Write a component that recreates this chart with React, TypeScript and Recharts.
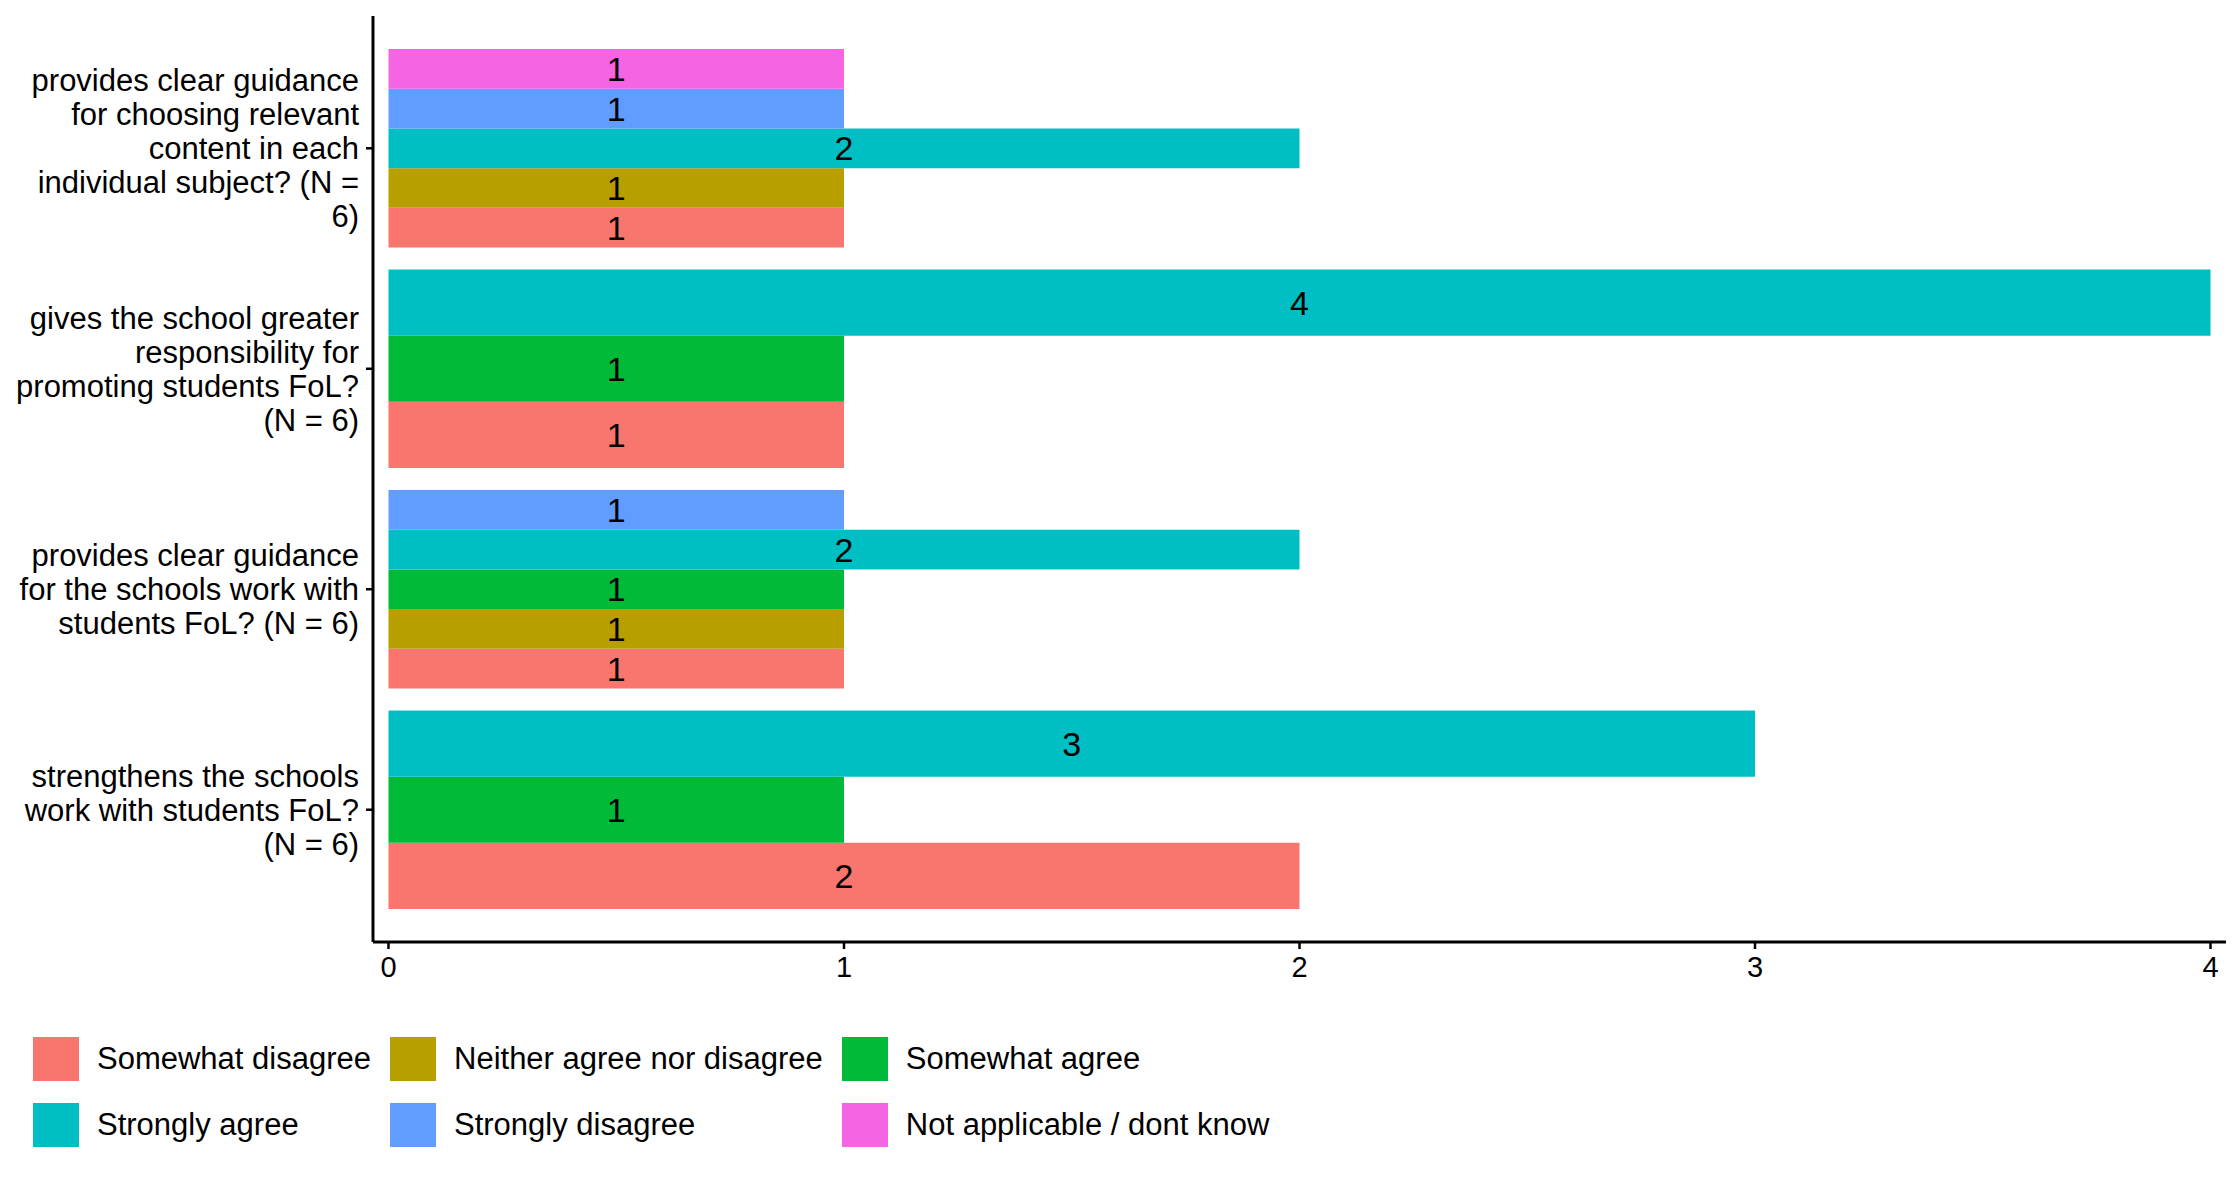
import { ComposedChart, XAxis, YAxis, ReferenceArea } from "recharts";

// questions, top to bottom, already wrapped the way the plot wraps them
const questionLines = [
  ["provides clear guidance", "for choosing relevant", "content in each", "individual subject? (N =", "6)"],
  ["gives the school greater", "responsibility for", "promoting students FoL?", "(N = 6)"],
  ["provides clear guidance", "for the schools work with", "students FoL? (N = 6)"],
  ["strengthens the schools", "work with students FoL?", "(N = 6)"],
];

const levels = [
  "Somewhat disagree",
  "Neither agree nor disagree",
  "Somewhat agree",
  "Strongly agree",
  "Strongly disagree",
  "Not applicable / dont know",
];
const levelColors = ["#F8766D", "#B79F00", "#00BA38", "#00BFC4", "#619CFF", "#F564E3"];

// counts per question (same order as questionLines), null = nobody answered that
const somewhatDisagree = [1, 1, 1, 2];
const neitherAgreeNorDisagree = [1, null, 1, null];
const somewhatAgree = [null, 1, 1, 1];
const stronglyAgree = [2, 4, 2, 3];
const stronglyDisagree = [1, null, 1, null];
const notApplicable = [1, null, null, null];

const countsByLevel = [
  somewhatDisagree,
  neitherAgreeNorDisagree,
  somewhatAgree,
  stronglyAgree,
  stronglyDisagree,
  notApplicable,
];

const xTicks = [0, 1, 2, 3, 4];
const yTicks = questionLines.map((_, i) => i + 1);

const FONT = "'Liberation Sans', Arial, Helvetica, sans-serif";
const DODGE = 0.9;

// dodge like ggplot: the bars that exist share the 0.9 band, first level at the bottom
const bars = questionLines.flatMap((_, qi) => {
  const present = levels.map((_, li) => li).filter((li) => countsByLevel[li][qi] != null);
  const w = DODGE / present.length;
  const pos = qi + 1;
  return present.map((li, j) => ({
    key: `${qi}-${li}`,
    value: countsByLevel[li][qi] as number,
    color: levelColors[li],
    y1: pos + DODGE / 2 - j * w,
    y2: pos + DODGE / 2 - (j + 1) * w,
  }));
});

const LINE_H = 34;

function QuestionTick({ x, y, payload }: any) {
  const lines = questionLines[payload.value - 1] ?? [];
  return (
    <text x={x} y={y} textAnchor="end" fontSize={31} fill="#000" fontFamily={FONT}>
      {lines.map((l, i) => (
        <tspan key={i} x={x} dy={i === 0 ? -((lines.length - 1) / 2) * LINE_H + 11 : LINE_H}>
          {l}
        </tspan>
      ))}
    </text>
  );
}

function LegendBox() {
  return (
    <div
      style={{
        position: "absolute",
        left: 33,
        top: 1037,
        display: "grid",
        gridTemplateColumns: "auto auto auto",
        columnGap: 19,
        rowGap: 22,
        fontFamily: FONT,
        fontSize: 31,
        color: "#000",
      }}
    >
      {levels.map((l, i) => (
        <div key={l} style={{ display: "flex", alignItems: "center" }}>
          <div style={{ width: 46, height: 44, background: levelColors[i], marginRight: 18 }} />
          <span>{l}</span>
        </div>
      ))}
    </div>
  );
}

export default function App() {
  return (
    <div style={{ position: "relative", width: 2240, height: 1180, background: "#fff", fontFamily: FONT }}>
      <style>{"body{margin:0}"}</style>
      <ComposedChart
        width={2240}
        height={1000}
        data={bars}
        margin={{ top: 16, right: 14, bottom: 8, left: 0 }}
      >
        <XAxis
          type="number"
          dataKey="value"
          domain={[-0.034, 4.034]}
          ticks={xTicks}
          allowDataOverflow
          height={50}
          tickSize={7}
          tickMargin={7}
          axisLine={{ stroke: "#000", strokeWidth: 3 }}
          tickLine={{ stroke: "#000", strokeWidth: 2.5 }}
          tick={{ fill: "#000", fontSize: 29 }}
        />
        <YAxis
          type="number"
          domain={[0.4, 4.6]}
          reversed
          ticks={yTicks}
          allowDataOverflow
          width={373}
          tickSize={7}
          tickMargin={7}
          axisLine={{ stroke: "#000", strokeWidth: 3 }}
          tickLine={{ stroke: "#000", strokeWidth: 2.5 }}
          tick={<QuestionTick />}
        />
        {bars.map((b) => (
          <ReferenceArea
            key={b.key}
            x1={0}
            x2={b.value}
            y1={b.y1}
            y2={b.y2}
            fill={b.color}
            fillOpacity={1}
            stroke="none"
            label={{ value: b.value, position: "center", fill: "#000", fontSize: 34 }}
          />
        ))}
      </ComposedChart>
      <LegendBox />
    </div>
  );
}
